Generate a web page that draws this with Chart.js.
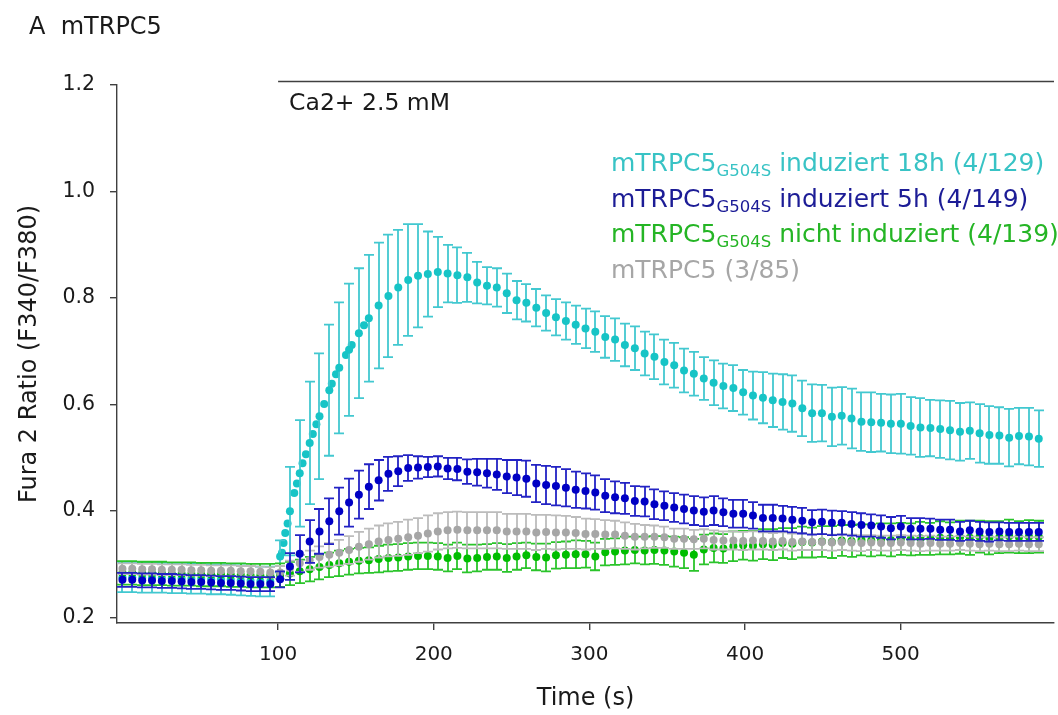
<!DOCTYPE html>
<html><head><meta charset="utf-8">
<script src="https://cdn.jsdelivr.net/npm/chart.js@4.4.1/dist/chart.umd.min.js"></script>
<style>html,body{margin:0;padding:0;background:#fff;overflow:hidden}canvas{display:block}</style>
</head><body>
<canvas id="c" width="1058" height="715"></canvas>
<script>
// ---- data ----
const time = [0,6.3,12.7,19.0,25.3,31.7,38.0,44.3,50.6,57.0,63.3,69.6,76.0,82.3,88.6,95.0,
  101.3,107.6,113.9,120.3,126.6,132.9,139.3,145.6,151.9,158.3,164.6,170.9,177.2,183.6,189.9,196.2,202.6,208.9,
  215.2,221.6,227.9,234.2,240.5,246.9,253.2,259.5,265.9,272.2,278.5,284.9,291.2,297.5,303.8,310.2,316.5,322.8,
  329.2,335.5,341.8,348.2,354.5,360.8,367.1,373.5,379.8,386.1,392.5,398.8,405.1,411.5,417.8,424.1,430.4,436.8,
  443.1,449.4,455.8,462.1,468.4,474.8,481.1,487.4,493.7,500.1,506.4,512.7,519.1,525.4,531.7,538.1,544.4,550.7,
  557.0,563.4,569.7,576.0,582.4,588.7];

const cyanMean = [0.276,0.276,0.275,0.275,0.275,0.274,0.274,0.273,0.273,0.272,0.272,0.271,0.270,0.269,0.268,0.268,
  0.315,0.400,0.471,0.528,0.578,0.627,0.669,0.703,0.734,0.762,0.786,0.804,0.820,0.834,0.842,0.845,0.849,0.846,
  0.843,0.839,0.829,0.823,0.820,0.809,0.796,0.791,0.782,0.772,0.764,0.757,0.750,0.743,
  0.737,0.727,0.722,0.712,0.706,0.696,0.690,0.680,0.674,0.664,0.658,
  0.649,0.641,0.635,0.631,0.623,0.617,0.613,0.608,0.605,0.602,0.593,0.584,0.584,0.577,0.579,0.574,0.568,0.567,
  0.566,0.564,0.564,0.560,0.557,0.556,0.554,0.552,0.549,0.551,0.546,0.543,0.542,0.538,0.541,0.540,0.536];
const cyanErr = [0.028,0.028,0.028,0.028,0.028,0.028,0.028,0.028,0.028,0.028,0.028,0.028,0.028,0.028,0.028,0.028,
  0.030,0.083,0.100,0.115,0.118,0.123,0.123,0.124,0.122,0.119,0.118,0.115,0.108,0.105,0.097,0.080,0.066,0.054,
  0.052,0.046,0.039,0.035,0.036,0.037,0.036,0.035,0.035,0.033,0.034,0.035,0.036,0.037,
  0.038,0.039,0.040,0.040,0.041,0.041,0.042,0.042,0.042,0.041,0.041,
  0.040,0.042,0.042,0.043,0.042,0.045,0.048,0.050,0.052,0.053,0.052,0.054,0.053,0.055,0.054,0.056,0.055,0.056,
  0.054,0.055,0.056,0.054,0.055,0.053,0.054,0.055,0.054,0.053,0.055,0.054,0.053,0.054,0.053,0.054,0.053];
const cyanRiseTime = [102.5,103.5,104.6,106.1,110.4,112.1,115.7,117.9,122.3,124.6,129.6,134.5,137.2,143.6,147.3,155.2];
const cyanRiseMean = [0.322,0.340,0.359,0.377,0.434,0.452,0.490,0.507,0.545,0.563,0.601,0.639,0.657,0.693,0.712,0.749];

const blueMean = [0.271,0.271,0.270,0.270,0.269,0.269,0.268,0.267,0.267,0.266,0.265,0.265,0.264,0.263,0.263,0.263,
  0.272,0.296,0.320,0.343,0.362,0.381,0.400,0.416,0.431,0.446,0.458,0.470,0.475,0.481,0.482,0.483,0.484,0.480,
  0.479,0.474,0.473,0.471,0.469,0.465,0.463,0.461,0.452,0.449,0.447,0.444,0.440,0.438,0.435,0.429,0.426,0.424,
  0.419,0.418,0.413,0.410,0.407,0.404,0.401,
  0.399,0.401,0.398,0.395,0.395,0.392,0.387,0.387,0.386,0.384,0.382,0.379,0.380,0.378,0.378,0.376,0.374,0.373,
  0.371,0.368,0.371,0.367,0.367,0.367,0.365,0.365,0.362,0.364,0.362,0.361,0.362,0.361,0.361,0.361,0.361];
const blueErr = [0.013,0.013,0.013,0.013,0.013,0.013,0.013,0.013,0.013,0.013,0.013,0.013,0.013,0.013,0.013,0.013,
  0.015,0.025,0.035,0.040,0.042,0.043,0.044,0.045,0.045,0.042,0.038,0.032,0.028,0.024,0.021,0.019,0.019,0.020,
  0.021,0.023,0.025,0.027,0.029,0.031,0.033,0.034,0.035,0.036,0.036,0.035,0.034,0.033,0.032,0.031,0.030,0.029,
  0.028,0.028,0.028,0.027,0.027,0.027,0.027,
  0.027,0.027,0.026,0.026,0.026,0.025,0.025,0.025,0.024,0.024,0.024,0.023,0.023,0.023,0.022,0.022,0.022,0.021,
  0.021,0.021,0.020,0.020,0.020,0.019,0.019,0.019,0.018,0.018,0.018,0.018,0.017,0.017,0.017,0.017,0.017];

const greenMean = [0.284,0.284,0.283,0.283,0.283,0.282,0.282,0.282,0.281,0.281,0.281,0.280,0.280,0.279,0.279,0.279,
  0.280,0.283,0.287,0.291,0.295,0.299,0.302,0.305,0.307,0.308,0.310,0.312,0.313,0.315,0.316,0.316,0.315,0.312,
  0.316,0.311,0.312,0.314,0.315,0.312,0.315,0.317,0.314,0.313,0.317,0.318,0.319,0.319,0.315,0.323,0.324,0.326,
  0.327,0.326,0.327,0.326,0.324,0.322,0.318,
  0.328,0.331,0.330,0.334,0.336,0.335,0.338,0.337,0.340,0.339,0.342,0.341,0.343,0.342,0.345,0.344,0.346,0.345,
  0.347,0.346,0.348,0.347,0.349,0.348,0.350,0.349,0.351,0.350,0.352,0.350,0.351,0.353,0.351,0.352,0.352];
const greenErr = [0.022,0.022,0.022,0.022,0.022,0.022,0.022,0.022,0.022,0.022,0.022,0.022,0.022,0.022,0.022,0.022,
  0.022,0.022,0.022,0.023,0.023,0.023,0.024,0.024,0.024,0.024,0.025,0.025,0.025,0.025,0.025,0.025,0.025,0.025,
  0.025,0.026,0.025,0.024,0.025,0.026,0.025,0.024,0.025,0.026,0.025,0.025,0.026,0.025,0.026,0.025,0.025,0.026,
  0.025,0.026,0.026,0.027,0.028,0.029,0.030,
  0.028,0.027,0.027,0.028,0.027,0.028,0.028,0.029,0.028,0.029,0.029,0.028,0.029,0.030,0.029,0.030,0.029,0.030,
  0.030,0.031,0.030,0.030,0.031,0.030,0.031,0.030,0.031,0.032,0.030,0.031,0.030,0.031,0.030,0.031,0.030];

const grayMean = [0.292,0.292,0.291,0.291,0.290,0.290,0.290,0.289,0.289,0.288,0.288,0.288,0.287,0.287,0.286,0.285,
  0.285,0.293,0.302,0.308,0.314,0.318,0.322,0.327,0.333,0.338,0.343,0.346,0.348,0.351,0.354,0.358,0.362,0.364,
  0.365,0.364,0.364,0.364,0.364,0.362,0.362,0.362,0.360,0.361,0.360,0.360,0.359,0.357,0.357,0.356,0.356,0.354,
  0.352,0.352,0.352,0.351,0.348,
  0.348,0.347,0.348,0.346,0.345,0.345,0.344,0.345,0.344,0.343,0.344,0.342,0.343,0.342,
  0.342,0.341,0.342,0.341,0.340,0.341,0.340,0.340,0.341,0.340,0.339,0.340,0.339,0.339,0.340,0.339,0.338,0.339,
  0.338,0.338,0.339,0.338,0.338];
const grayErr = [0.010,0.010,0.010,0.010,0.010,0.010,0.010,0.010,0.010,0.010,0.010,0.010,0.010,0.010,0.010,0.010,
  0.012,0.014,0.016,0.018,0.020,0.022,0.024,0.026,0.028,0.029,0.030,0.031,0.032,0.033,0.033,0.034,0.034,0.034,
  0.034,0.034,0.034,0.034,0.034,0.033,0.033,0.033,0.033,0.032,0.032,0.031,0.030,0.029,0.028,0.027,0.026,0.025,0.024,
  0.022,0.021,0.020,0.019,0.019,0.018,0.018,0.018,0.017,0.017,0.017,0.017,0.016,0.016,0.016,0.016,0.016,0.015,
  0.015,0.015,0.015,0.015,0.015,0.014,0.014,0.014,0.014,0.014,0.014,0.014,0.013,0.013,0.013,0.013,0.013,0.013,
  0.013,0.013,0.013,0.013,0.013];

const xTicks = [100, 200, 300, 400, 500];
const yTicks = [0.2, 0.4, 0.6, 0.8, 1.0, 1.2];
const panelTitle = 'A  mTRPC5';
const caStart = 100;
const caLabel = 'Ca2+ 2.5 mM';
const legendLines = [
  {pre: 'mTRPC5', sub: 'G504S', post: ' induziert 18h (4/129)', color: '#38C3C5'},
  {pre: 'mTRPC5', sub: 'G504S', post: ' induziert 5h (4/149)', color: '#1C1C96'},
  {pre: 'mTRPC5', sub: 'G504S', post: ' nicht induziert (4/139)', color: '#25B525'},
  {pre: 'mTRPC5 (3/85)', sub: '', post: '', color: '#A6A6A6'}
];

[cyanMean,cyanErr,blueMean,blueErr,greenMean,greenErr,grayMean,grayErr].forEach((a,i)=>{
  if (a.length !== time.length) console.error('length mismatch', i, a.length, time.length);
});

const pts = (xs, ys) => xs.map((x, i) => ({x, y: ys[i]}));
const FONT = "'DejaVu Sans', sans-serif";

const errorBars = {
  id: 'errorBars',
  beforeDatasetDraw(chart, args) {
    const ds = chart.data.datasets[args.index];
    if (!ds.errors) return;
    const {ctx} = chart;
    const xs = chart.scales.x, ys = chart.scales.y;
    const cap = 5;
    ctx.save();
    ctx.strokeStyle = ds.errorColor;
    ctx.lineWidth = 1.8;
    ctx.beginPath();
    ds.data.forEach((p, i) => {
      const e = ds.errors[i];
      if (e == null) return;
      const x = Math.round(xs.getPixelForValue(p.x));
      const y1 = ys.getPixelForValue(p.y + e), y2 = ys.getPixelForValue(p.y - e);
      ctx.moveTo(x, y1); ctx.lineTo(x, y2);
      ctx.moveTo(x - cap, y1); ctx.lineTo(x + cap, y1);
      ctx.moveTo(x - cap, y2); ctx.lineTo(x + cap, y2);
    });
    ctx.stroke();
    ctx.restore();
  }
};

const annotations = {
  id: 'annotations',
  afterDraw(chart) {
    const {ctx, chartArea} = chart;
    const xs = chart.scales.x;
    ctx.save();
    ctx.textAlign = 'left';
    ctx.textBaseline = 'alphabetic';
    ctx.fillStyle = '#1a1a1a';
    ctx.font = '24px ' + FONT;
    ctx.fillText(panelTitle, 29, 34);
    const x0 = xs.getPixelForValue(caStart);
    ctx.strokeStyle = '#404040';
    ctx.lineWidth = 1.6;
    ctx.beginPath();
    ctx.moveTo(x0, chartArea.top - 3.5);
    ctx.lineTo(chartArea.right, chartArea.top - 3.5);
    ctx.stroke();
    ctx.font = '23.5px ' + FONT;
    ctx.fillText(caLabel, x0 + 11, chartArea.top + 25);
    legendLines.forEach((l, i) => {
      let x = 611;
      const y = 171 + 35.5 * i;
      ctx.fillStyle = l.color;
      ctx.font = '25px ' + FONT;
      ctx.fillText(l.pre, x, y);
      x += ctx.measureText(l.pre).width;
      if (l.sub) {
        ctx.font = '16.5px ' + FONT;
        ctx.fillText(l.sub, x, y + 5);
        x += ctx.measureText(l.sub).width;
        ctx.font = '25px ' + FONT;
      }
      if (l.post) ctx.fillText(l.post, x, y);
    });
    ctx.restore();
  }
};

const mk = (label, data, color, errColor, errors, order) => ({
  label, data, errors, errorColor: errColor, order,
  showLine: false, pointRadius: 4, pointBorderWidth: 0,
  pointBackgroundColor: color, pointBorderColor: color, backgroundColor: color
});

new Chart(document.getElementById('c'), {
  type: 'scatter',
  data: {
    datasets: [
      mk('mTRPC5 G504S induziert 18h (4/129)', pts(time, cyanMean), '#17C4C6', '#42C8D0', cyanErr, 3),
      mk('cyan rise', pts(cyanRiseTime, cyanRiseMean), '#17C4C6', '#42C8D0', null, 3),
      mk('mTRPC5 G504S induziert 5h (4/149)', pts(time, blueMean), '#0000C4', '#2222C4', blueErr, 0),
      mk('mTRPC5 G504S nicht induziert (4/139)', pts(time, greenMean), '#00BE00', '#2AC42A', greenErr, 2),
      mk('mTRPC5 (3/85)', pts(time, grayMean), '#A6A6A6', '#BCBCBC', grayErr, 1)
    ]
  },
  options: {
    responsive: false,
    animation: false,
    devicePixelRatio: 1,
    events: [],
    layout: {padding: {top: 85, left: 0, right: 0, bottom: 0}},
    plugins: {legend: {display: false}, tooltip: {enabled: false}, title: {display: false}},
    scales: {
      x: {
        type: 'linear', min: -3.5, max: 598.5,
        afterBuildTicks: s => { s.ticks = xTicks.map(v => ({value: v})); },
        afterFit: s => { s.height = 92; },
        grid: {display: true, drawOnChartArea: false, drawTicks: true, tickLength: 7, color: '#404040', lineWidth: 1.4},
        border: {display: true, color: '#404040', width: 1.4},
        ticks: {font: {size: 20, family: FONT}, color: '#1a1a1a', padding: 13, maxRotation: 0, autoSkip: false},
        title: {display: true, text: 'Time (s)', font: {size: 24, family: FONT}, color: '#1a1a1a', padding: {top: 0, bottom: 2}}
      },
      y: {
        type: 'linear', min: 0.19, max: 1.2,
        afterBuildTicks: s => { s.ticks = yTicks.map(v => ({value: v})); },
        afterFit: s => { s.width = 117; },
        grid: {display: true, drawOnChartArea: false, drawTicks: true, tickLength: 7, color: '#404040', lineWidth: 1.4},
        border: {display: true, color: '#404040', width: 1.4},
        ticks: {font: {size: 20.5, family: FONT}, color: '#1a1a1a', padding: 15, autoSkip: false, callback: v => Number(v).toFixed(1)},
        title: {display: true, text: 'Fura 2 Ratio (F340/F380)', font: {size: 24, family: FONT}, color: '#1a1a1a', padding: {top: 15, bottom: 0}}
      }
    }
  },
  plugins: [errorBars, annotations]
});
</script>
</body></html>
